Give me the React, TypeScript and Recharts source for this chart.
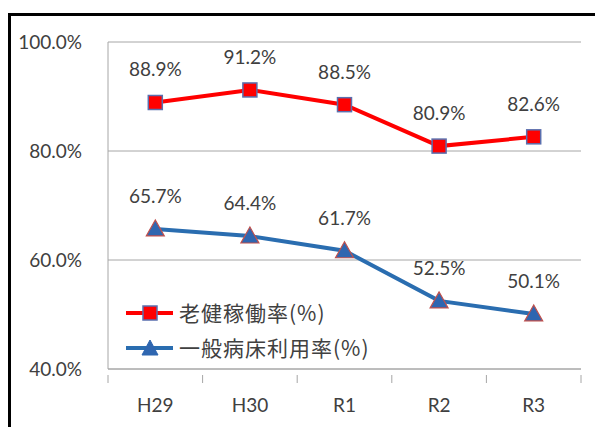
import { LineChart, Line, XAxis, YAxis, CartesianGrid, LabelList } from 'recharts';

const years = ['H29', 'H30', 'R1', 'R2', 'R3'];
const rokenRate = [88.9, 91.2, 88.5, 80.9, 82.6];
const bedRate = [65.7, 64.4, 61.7, 52.5, 50.1];
const yTicks = [40, 60, 80, 100];

const seriesNames = ['老健稼働率(%)', '一般病床利用率(%)'];

const data = years.map((y, i) => ({ year: y, roken: rokenRate[i], bed: bedRate[i] }));

const textColor = '#404040';
const gridColor = '#a6a6a6';
const font = 'Lato, "Liberation Sans", sans-serif';
const cjkFont = '"Noto Sans CJK JP", "Noto Sans CJK SC", sans-serif';

const Square = (props: any) => {
  const { cx, cy } = props;
  if (cx == null || cy == null) return null;
  return <rect x={cx - 7} y={cy - 7} width={14} height={14} fill="#ff0000" stroke="#5a6fae" strokeWidth={1.5} />;
};

const Triangle = (props: any) => {
  const { cx, cy } = props;
  if (cx == null || cy == null) return null;
  return (
    <polygon
      points={`${cx},${cy - 9} ${cx - 9},${cy + 7} ${cx + 9},${cy + 7}`}
      fill="#2f66b0"
      stroke="#c0504d"
      strokeWidth={1.2}
    />
  );
};

// category label plus Excel-style tick marks between categories
const YearTick = (props: any) => {
  const { x, y, payload, index, visibleTicksCount } = props;
  const half = payload?.offset ?? 0;
  const top = y - 24;
  return (
    <g>
      <line x1={x - half} y1={top} x2={x - half} y2={top + 8} stroke={gridColor} />
      {index === visibleTicksCount - 1 && (
        <line x1={x + half} y1={top} x2={x + half} y2={top + 8} stroke={gridColor} />
      )}
      <text x={x} y={y} dy="0.71em" textAnchor="middle" fill={textColor} fontSize={19} fontFamily={font}>
        {payload.value}
      </text>
    </g>
  );
};

// legend drawn as an overlay so it does not take space from the plot
const LegendBox = () => (
  <div
    style={{
      position: 'absolute',
      left: 118,
      top: 287,
      fontFamily: cjkFont,
      fontSize: 21,
      letterSpacing: 1,
      color: textColor,
      lineHeight: '35px',
    }}
  >
    {seriesNames.map((name, i) => (
      <div key={name} style={{ display: 'flex', alignItems: 'center' }}>
        <svg width={50} height={20} style={{ marginRight: 3 }}>
          <line x1={0} y1={10} x2={47} y2={10} stroke={i === 0 ? '#ff0000' : '#2a6db0'} strokeWidth={4} />
          {i === 0 ? (
            <rect x={17} y={3} width={14} height={14} fill="#ff0000" stroke="#5a6fae" strokeWidth={1.5} />
          ) : (
            <polygon points="24,2 16,17 32,17" fill="#2f66b0" stroke="#2f66b0" />
          )}
        </svg>
        <span>{name}</span>
      </div>
    ))}
  </div>
);

export default function App() {
  return (
    <div style={{ position: 'relative', width: 595, height: 419 }}>
      <div
        style={{
          position: 'absolute',
          left: 0,
          top: 5,
          right: 0,
          bottom: 0,
          borderLeft: '3px solid #000',
          borderTop: '3px solid #000',
        }}
      />
      <LineChart width={595} height={419} data={data} margin={{ top: 34, right: 22, left: 0, bottom: 0 }}>
        <CartesianGrid horizontal vertical={false} stroke={gridColor} />
        <XAxis
          dataKey="year"
          scale="band"
          height={58}
          stroke={gridColor}
          tickLine={false}
          tick={<YearTick />}
          tickMargin={24}
        />
        <YAxis
          domain={[40, 100]}
          ticks={yTicks}
          width={100}
          stroke={gridColor}
          tickLine={false}
          tickMargin={20}
          tick={{ fill: textColor, fontSize: 19, fontFamily: font }}
          tickFormatter={(v: number) => v.toFixed(1) + '%'}
        />
        <YAxis yAxisId="r" orientation="right" width={0} stroke={gridColor} tick={false} tickLine={false} />
        <Line
          dataKey="roken"
          name={seriesNames[0]}
          stroke="#ff0000"
          strokeWidth={4}
          dot={<Square />}
          isAnimationActive={false}
        >
          <LabelList
            dataKey="roken"
            position="top"
            offset={26}
            fill={textColor}
            style={{ fontSize: 19, fontFamily: font }}
            formatter={(v: any) => Number(v).toFixed(1) + '%'}
          />
        </Line>
        <Line
          dataKey="bed"
          name={seriesNames[1]}
          stroke="#2a6db0"
          strokeWidth={4}
          dot={<Triangle />}
          isAnimationActive={false}
        >
          <LabelList
            dataKey="bed"
            position="top"
            offset={26}
            fill={textColor}
            style={{ fontSize: 19, fontFamily: font }}
            formatter={(v: any) => Number(v).toFixed(1) + '%'}
          />
        </Line>
      </LineChart>
      <LegendBox />
    </div>
  );
}
